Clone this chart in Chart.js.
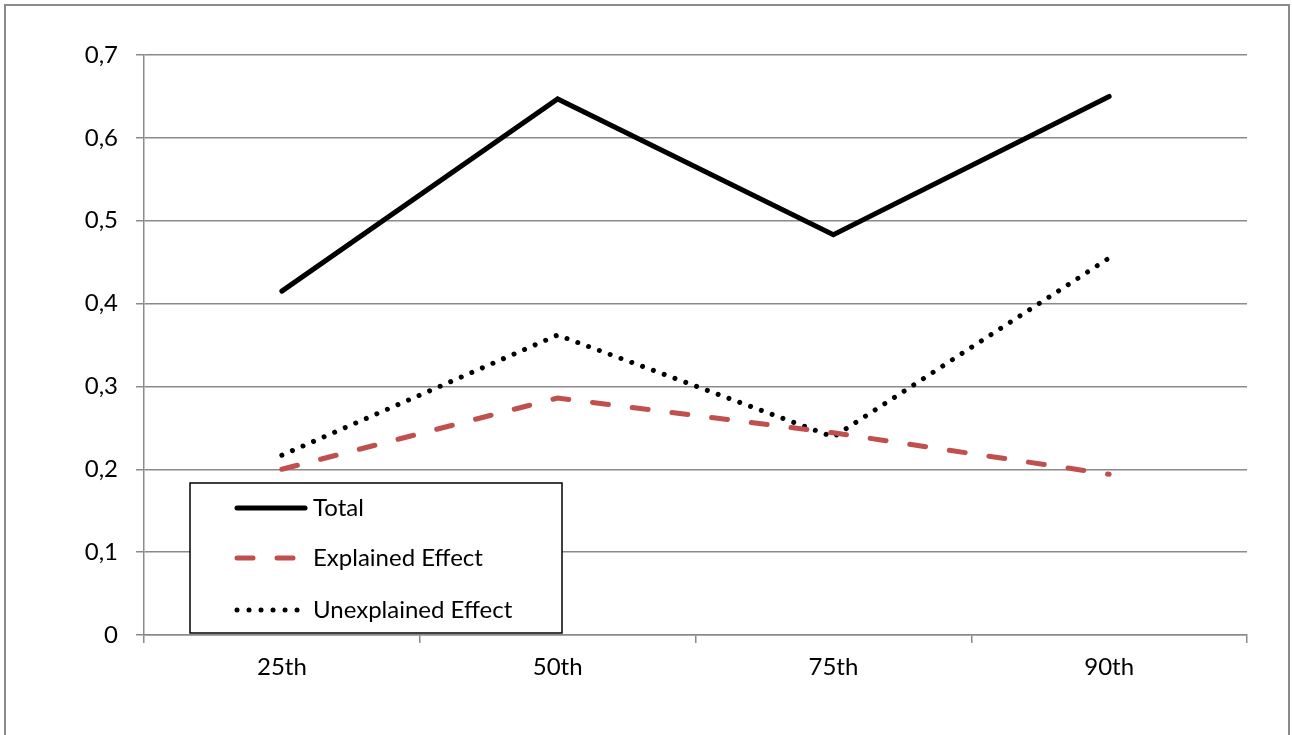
<!DOCTYPE html>
<html>
<head>
<meta charset="utf-8">
<script src="https://cdn.jsdelivr.net/npm/chart.js@4"></script>
<style>
  html, body { margin: 0; padding: 0; background: #fff; overflow: hidden; }
  #wrap { position: relative; width: 1292px; height: 735px; }
</style>
</head>
<body>
<div id="wrap"><canvas id="chart" width="1292" height="735"></canvas></div>
<script>
const categories = ['25th', '50th', '75th', '90th'];
const total = [0.415, 0.647, 0.483, 0.650];
const explained = [0.200, 0.286, 0.244, 0.194];
const unexplained = [0.217, 0.362, 0.239, 0.455];
const y_tick_labels = ['0', '0,1', '0,2', '0,3', '0,4', '0,5', '0,6', '0,7'];

const font_family = 'Lato, "Open Sans", sans-serif';
const grid_color = '#8a8a8a';

Chart.defaults.font.family = font_family;
Chart.defaults.font.size = 24;
Chart.defaults.color = '#000';

// outer frame around the whole chart
const frame_plugin = {
    id: 'frame',
    beforeDraw(chart) {
        const ctx = chart.ctx;
        ctx.save();
        ctx.fillStyle = '#fff';
        ctx.fillRect(0, 0, chart.width, chart.height);
        ctx.strokeStyle = grid_color;
        ctx.lineWidth = 2;
        ctx.strokeRect(5, 5, 1284, 780);
        ctx.restore();
    }
};

// boxed legend sitting inside the plot, bottom left
const box_legend = {
    id: 'boxLegend',
    afterDraw(chart) {
        const ctx = chart.ctx;
        ctx.save();
        ctx.fillStyle = '#fff';
        ctx.fillRect(190, 483, 372, 150);
        ctx.strokeStyle = '#000';
        ctx.lineWidth = 1.5;
        ctx.strokeRect(190, 483, 372, 150);

        const rows = [508, 558, 610];
        chart.data.datasets.forEach((ds, i) => {
            const y = rows[i];
            ctx.beginPath();
            ctx.strokeStyle = ds.borderColor;
            ctx.lineWidth = ds.borderWidth;
            ctx.lineCap = ds.borderCapStyle || 'butt';
            ctx.setLineDash(ds.legendDash || ds.borderDash || []);
            ctx.moveTo(237, y);
            ctx.lineTo(305, y);
            ctx.stroke();
            ctx.setLineDash([]);
            ctx.fillStyle = '#000';
            ctx.font = '24px ' + font_family;
            ctx.textBaseline = 'middle';
            ctx.fillText(ds.label, 313, y);
        });
        ctx.restore();
    }
};

new Chart(document.getElementById('chart'), {
    type: 'line',
    data: {
        labels: categories,
        datasets: [{
            label: 'Total',
            data: total,
            borderColor: '#000000',
            borderWidth: 5,
            borderCapStyle: 'round',
            borderJoinStyle: 'miter',
            pointRadius: 0,
            tension: 0,
            fill: false
        }, {
            label: 'Explained Effect',
            data: explained,
            borderColor: '#C0504D',
            borderWidth: 5,
            borderDash: [16, 24],
            borderCapStyle: 'round',
            pointRadius: 0,
            tension: 0,
            fill: false
        }, {
            label: 'Unexplained Effect',
            data: unexplained,
            borderColor: '#000000',
            borderWidth: 5,
            borderDash: [0.01, 11.5],
            legendDash: [0.01, 12],
            borderCapStyle: 'round',
            pointRadius: 0,
            tension: 0,
            fill: false
        }]
    },
    options: {
        responsive: false,
        animation: false,
        layout: { padding: { left: 0, top: 55, right: 45, bottom: 0 } },
        plugins: {
            legend: { display: false },
            tooltip: { enabled: false }
        },
        scales: {
            x: {
                offset: true,
                grid: {
                    offset: true,
                    drawOnChartArea: false,
                    drawTicks: true,
                    tickLength: 8,
                    color: grid_color,
                    lineWidth: 1.5
                },
                border: { color: grid_color, width: 1.5 },
                ticks: { padding: 10, maxRotation: 0 },
                afterFit(scale) { scale.height = 100; }
            },
            y: {
                min: 0,
                max: 0.7,
                ticks: {
                    stepSize: 0.1,
                    padding: 18,
                    callback: (value, index) => y_tick_labels[index]
                },
                grid: {
                    color: grid_color,
                    lineWidth: 1.5,
                    tickLength: 8
                },
                border: { color: grid_color, width: 1.5 },
                afterFit(scale) { scale.width = 144; }
            }
        }
    },
    plugins: [frame_plugin, box_legend]
});
</script>
</body>
</html>
